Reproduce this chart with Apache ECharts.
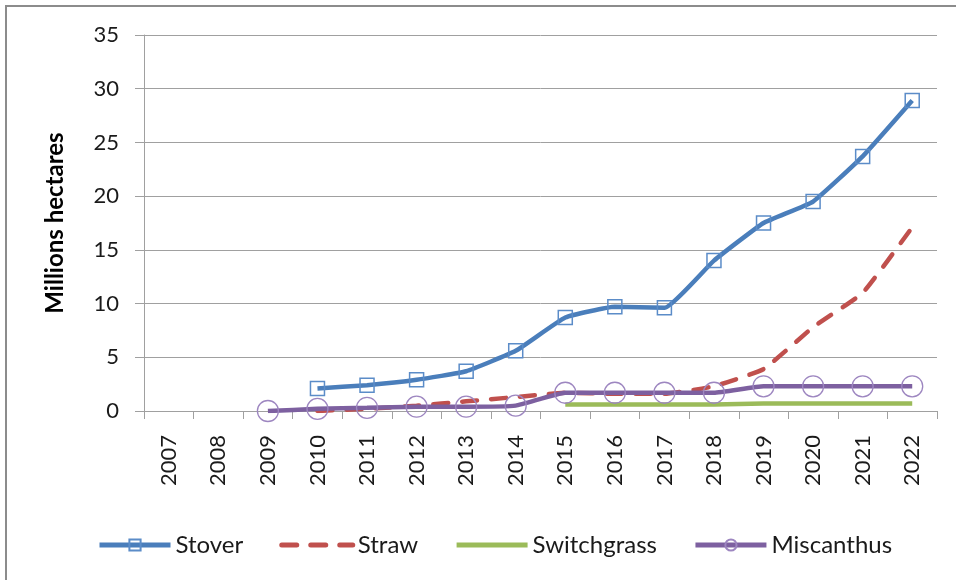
<!DOCTYPE html>
<html>
<head>
<meta charset="utf-8">
<script src="https://cdn.jsdelivr.net/npm/echarts@6/dist/echarts.min.js"></script>
<style>html,body{margin:0;padding:0;background:#fff;}#c{width:956px;height:580px;}</style>
</head>
<body>
<div id="c"></div>
<script>
const years = ['2007','2008','2009','2010','2011','2012','2013','2014','2015','2016','2017','2018','2019','2020','2021','2022'];
const stover = [null,null,null,2.1,2.4,2.9,3.7,5.6,8.7,9.7,9.6,14.0,17.5,19.5,23.7,28.9];
const straw = [null,null,null,0.0,0.2,0.5,0.9,1.3,1.7,1.6,1.6,2.3,3.9,7.8,11.0,17.1];
const switchgrass = [null,null,null,null,null,null,null,null,0.6,0.6,0.6,0.6,0.7,0.7,0.7,0.7];
const miscanthus = [null,null,0.0,0.2,0.3,0.4,0.4,0.5,1.7,1.7,1.7,1.7,2.3,2.3,2.3,2.3];
const yTicks = {min:0, max:35, interval:5};
const FONT = 'Lato';

const chart = echarts.init(document.getElementById('c'), null, {renderer:'canvas'});
chart.setOption({
  animation:false,
  backgroundColor:'#fff',
  graphic:[{type:'rect', shape:{x:6,y:6,width:1000,height:1000}, style:{fill:'none', stroke:'#8C8C8C', lineWidth:2}, silent:true}],
  grid:{left:144, right:19, top:35, bottom:169},
  legend:{
    top:528, left:92, itemWidth:71, itemHeight:14, itemGap:36,
    textStyle:{fontFamily:FONT, fontSize:24, color:'#1a1a1a'},
    lineStyle:{width:5},
    data:[
      {name:'Stover'},
      {name:'Straw', itemStyle:{opacity:0}},
      {name:'Switchgrass', itemStyle:{opacity:0}},
      {name:'Miscanthus'}
    ]
  },
  xAxis:{
    type:'category', data:years, boundaryGap:true,
    axisLine:{lineStyle:{color:'#A0A0A0', width:1}},
    axisTick:{show:true, length:8, lineStyle:{color:'#A0A0A0'}},
    axisLabel:{rotate:90, margin:24, fontFamily:FONT, fontSize:22, color:'#1a1a1a'},
    splitLine:{show:false}
  },
  yAxis:{
    type:'value', min:yTicks.min, max:yTicks.max, interval:yTicks.interval,
    name:'Millions hectares', nameLocation:'middle', nameGap:77, nameRotate:90,
    nameTextStyle:{fontFamily:FONT, fontSize:24, fontWeight:'bold', color:'#000'},
    axisLine:{show:true, lineStyle:{color:'#A0A0A0', width:1}},
    axisTick:{show:true, length:9, lineStyle:{color:'#A0A0A0'}},
    axisLabel:{margin:25, fontFamily:FONT, fontSize:22, color:'#1a1a1a'},
    splitLine:{lineStyle:{color:'#A0A0A0', width:1}}
  },
  series:[
    {name:'Stover', type:'line', data:stover, smooth:0.12, connectNulls:false,
     symbol:'rect', symbolSize:14, showAllSymbol:true,
     lineStyle:{color:'#4A7EBB', width:4.5},
     itemStyle:{color:'rgba(255,255,255,0)', borderColor:'#5B8CC8', borderWidth:1.5}},
    {name:'Straw', type:'line', data:straw, smooth:0.12,
     symbol:'none',
     lineStyle:{color:'#C0504D', width:4.5, type:[15,14], cap:'round'},
     itemStyle:{color:'#C0504D'}},
    {name:'Switchgrass', type:'line', data:switchgrass, smooth:0.12,
     symbol:'none',
     lineStyle:{color:'#9BBB59', width:4.5},
     itemStyle:{color:'#9BBB59'}},
    {name:'Miscanthus', type:'line', data:miscanthus, smooth:0.12,
     symbol:'circle', symbolSize:21, showAllSymbol:true,
     lineStyle:{color:'#7D60A0', width:4.5},
     itemStyle:{color:'rgba(255,255,255,0)', borderColor:'#9D86C0', borderWidth:1.3}}
  ]
});
</script>
</body>
</html>
